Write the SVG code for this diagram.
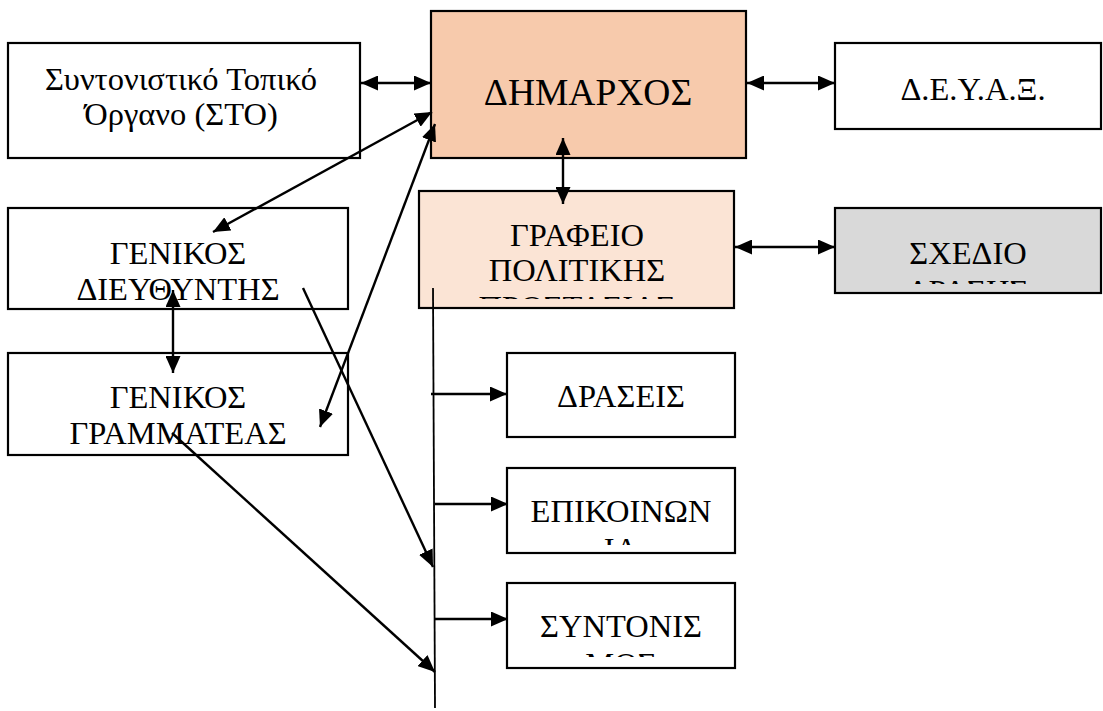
<svg xmlns="http://www.w3.org/2000/svg" width="1103" height="711" viewBox="0 0 1103 711">
<style>
.box{stroke:#000;stroke-width:2.2;fill:#fff}
.t{font-family:'Liberation Serif','Times New Roman',serif;font-size:32.5px;fill:#000;text-anchor:middle}
.big{font-size:37.5px}
.c{stroke:#000;stroke-width:2.4;fill:none}
</style>
<defs>
<marker id="ah" viewBox="0 0 17 15" refX="17" refY="7.5" markerWidth="17" markerHeight="15" markerUnits="userSpaceOnUse" orient="auto-start-reverse">
<path d="M0,0 L17,7.5 L0,15 z" fill="#000"/>
</marker>
<clipPath id="clGraf"><rect x="419" y="191" width="316" height="108"/></clipPath>
<clipPath id="clSxed"><rect x="835" y="208" width="266" height="76"/></clipPath>
<clipPath id="clEpik"><rect x="507" y="468" width="228" height="77"/></clipPath>
<clipPath id="clSynt"><rect x="507" y="583" width="228" height="74"/></clipPath>
</defs>
<g id="sto">
<rect class="box" x="8" y="43" width="352" height="115"/>
<text class="t" x="181" y="90">Συντονιστικό Τοπικό</text>
<text class="t" x="181" y="125">Όργανο (ΣΤΟ)</text>
</g>
<g id="dimarchos">
<rect class="box" x="431" y="11" width="315" height="147" style="fill:#F7CAAC"/>
<text class="t big" x="588" y="105">ΔΗΜΑΡΧΟΣ</text>
</g>
<g id="deyax">
<rect class="box" x="835" y="43" width="266" height="86"/>
<text class="t" x="973" y="100">Δ.Ε.Υ.Α.Ξ.</text>
</g>
<g id="grafeio">
<rect class="box" x="419" y="191" width="315" height="117" style="fill:#FBE4D5"/>
<g clip-path="url(#clGraf)">
<text class="t" x="577" y="246">ΓΡΑΦΕΙΟ</text>
<text class="t" x="577" y="281">ΠΟΛΙΤΙΚΗΣ</text>
<text class="t" x="577" y="318">ΠΡΟΣΤΑΣΙΑΣ</text>
</g>
</g>
<g id="sxedio">
<rect class="box" x="835" y="208" width="266" height="85" style="fill:#D9D9D9"/>
<g clip-path="url(#clSxed)">
<text class="t" x="968" y="264">ΣΧΕΔΙΟ</text>
<text class="t" x="968" y="302">ΔΡΑΣΗΣ</text>
</g>
</g>
<g id="gen-dieythyntis">
<rect class="box" x="8" y="208" width="340" height="101"/>
<text class="t" x="178" y="264">ΓΕΝΙΚΟΣ</text>
<text class="t" x="178" y="300">ΔΙΕΥΘΥΝΤΗΣ</text>
</g>
<g id="gen-grammateas">
<rect class="box" x="8" y="353" width="340" height="102"/>
<text class="t" x="178" y="408">ΓΕΝΙΚΟΣ</text>
<text class="t" x="178" y="444">ΓΡΑΜΜΑΤΕΑΣ</text>
</g>
<g id="draseis">
<rect class="box" x="507" y="353" width="228" height="84"/>
<text class="t" x="621" y="407">ΔΡΑΣΕΙΣ</text>
</g>
<g id="epikoinonia">
<rect class="box" x="507" y="468" width="228" height="85"/>
<g clip-path="url(#clEpik)">
<text class="t" x="621" y="522">ΕΠΙΚΟΙΝΩΝ</text>
<text class="t" x="621" y="560">ΙΑ</text>
</g>
</g>
<g id="syntonismos">
<rect class="box" x="507" y="583" width="228" height="85"/>
<g clip-path="url(#clSynt)">
<text class="t" x="621" y="637">ΣΥΝΤΟΝΙΣ</text>
<text class="t" x="621" y="675">ΜΟΣ</text>
</g>
</g>
<g id="connectors">
<line class="c" x1="361" y1="83" x2="431" y2="83" marker-start="url(#ah)" marker-end="url(#ah)"/>
<line class="c" x1="747" y1="83" x2="835" y2="83" marker-start="url(#ah)" marker-end="url(#ah)"/>
<line class="c" x1="563" y1="138" x2="563" y2="204" marker-start="url(#ah)" marker-end="url(#ah)"/>
<line class="c" x1="735" y1="247" x2="835" y2="247" marker-start="url(#ah)" marker-end="url(#ah)"/>
<line class="c" x1="432" y1="112" x2="213" y2="232" marker-start="url(#ah)" marker-end="url(#ah)"/>
<line class="c" x1="435" y1="124" x2="320" y2="427" marker-start="url(#ah)" marker-end="url(#ah)"/>
<line class="c" x1="173" y1="290" x2="173" y2="373" marker-start="url(#ah)" marker-end="url(#ah)"/>
<line class="c" x1="303" y1="288" x2="433" y2="567" marker-end="url(#ah)"/>
<line class="c" x1="172" y1="433" x2="435" y2="672" marker-end="url(#ah)"/>
<line class="c" x1="433" y1="288" x2="435" y2="708" style="stroke-width:1.8"/>
<line class="c" x1="431" y1="394" x2="507" y2="394" marker-end="url(#ah)"/>
<line class="c" x1="435" y1="504" x2="508" y2="504" marker-end="url(#ah)"/>
<line class="c" x1="435" y1="619" x2="508" y2="619" marker-end="url(#ah)"/>
</g>
</svg>
